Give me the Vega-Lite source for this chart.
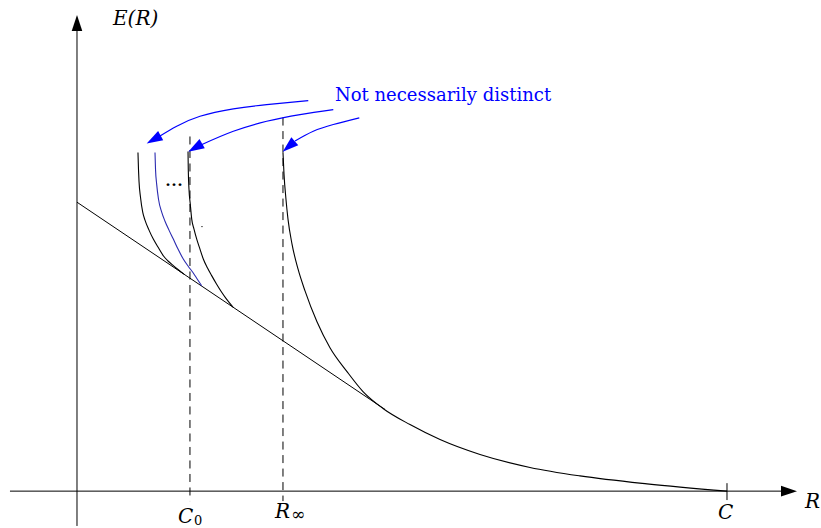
{
  "$schema": "https://vega.github.io/schema/vega-lite/v6.json",
  "width": 821,
  "height": 528,
  "autosize": {"type": "fit", "contains": "padding"},
  "padding": 0,
  "background": "white",
  "config": {"view": {"stroke": null}},
  "datasets": {
    "segments": [
      {"name": "R axis", "R": -1.031, "E": 0, "R2": 10.892, "E2": 0},
      {"name": "E axis", "R": 0, "E": -0.538, "R2": 0, "E2": 7.154},
      {"name": "tick C", "R": 10, "E": 0.123, "R2": 10, "E2": -0.138},
      {"name": "sphere packing line", "R": 0, "E": 4.462, "R2": 4.738, "E2": 1.262}
    ],
    "guides": [
      {"name": "C0", "R": 1.738, "E": 5.477, "R2": 1.738, "E2": -0.154},
      {"name": "Rinf", "R": 3.169, "E": 5.769, "R2": 3.169, "E2": -0.154}
    ],
    "curves": [
      {"curve": "A", "R": 0.938, "E": 5.231},
      {"curve": "A", "R": 0.946, "E": 4.969},
      {"curve": "A", "R": 0.954, "E": 4.785},
      {"curve": "A", "R": 0.977, "E": 4.538},
      {"curve": "A", "R": 1.011, "E": 4.308},
      {"curve": "A", "R": 1.046, "E": 4.185},
      {"curve": "A", "R": 1.108, "E": 4.031},
      {"curve": "A", "R": 1.174, "E": 3.892},
      {"curve": "A", "R": 1.246, "E": 3.769},
      {"curve": "A", "R": 1.328, "E": 3.635},
      {"curve": "A", "R": 1.4, "E": 3.554},
      {"curve": "A", "R": 1.482, "E": 3.482},
      {"curve": "A", "R": 1.554, "E": 3.423},
      {"curve": "A", "R": 1.646, "E": 3.351},
      {"curve": "B", "R": 1.2, "E": 5.231},
      {"curve": "B", "R": 1.208, "E": 4.969},
      {"curve": "B", "R": 1.226, "E": 4.738},
      {"curve": "B", "R": 1.254, "E": 4.508},
      {"curve": "B", "R": 1.303, "E": 4.308},
      {"curve": "B", "R": 1.354, "E": 4.169},
      {"curve": "B", "R": 1.415, "E": 4.031},
      {"curve": "B", "R": 1.482, "E": 3.892},
      {"curve": "B", "R": 1.554, "E": 3.738},
      {"curve": "B", "R": 1.635, "E": 3.585},
      {"curve": "B", "R": 1.708, "E": 3.477},
      {"curve": "B", "R": 1.789, "E": 3.369},
      {"curve": "B", "R": 1.854, "E": 3.269},
      {"curve": "B", "R": 1.918, "E": 3.172},
      {"curve": "C", "R": 1.708, "E": 5.246},
      {"curve": "C", "R": 1.712, "E": 4.969},
      {"curve": "C", "R": 1.723, "E": 4.662},
      {"curve": "C", "R": 1.743, "E": 4.431},
      {"curve": "C", "R": 1.765, "E": 4.2},
      {"curve": "C", "R": 1.8, "E": 4.046},
      {"curve": "C", "R": 1.842, "E": 3.892},
      {"curve": "C", "R": 1.892, "E": 3.738},
      {"curve": "C", "R": 1.943, "E": 3.585},
      {"curve": "C", "R": 2.008, "E": 3.446},
      {"curve": "C", "R": 2.072, "E": 3.328},
      {"curve": "C", "R": 2.146, "E": 3.2},
      {"curve": "C", "R": 2.226, "E": 3.072},
      {"curve": "C", "R": 2.292, "E": 2.977},
      {"curve": "C", "R": 2.4, "E": 2.842},
      {"curve": "Rinf", "R": 3.169, "E": 5.231},
      {"curve": "Rinf", "R": 3.185, "E": 4.892},
      {"curve": "Rinf", "R": 3.215, "E": 4.508},
      {"curve": "Rinf", "R": 3.246, "E": 4.2},
      {"curve": "Rinf", "R": 3.308, "E": 3.815},
      {"curve": "Rinf", "R": 3.4, "E": 3.431},
      {"curve": "Rinf", "R": 3.508, "E": 3.092},
      {"curve": "Rinf", "R": 3.692, "E": 2.615},
      {"curve": "Rinf", "R": 3.892, "E": 2.215},
      {"curve": "Rinf", "R": 4.154, "E": 1.846},
      {"curve": "Rinf", "R": 4.4, "E": 1.538},
      {"curve": "Rinf", "R": 4.708, "E": 1.277},
      {"curve": "Rinf", "R": 5.123, "E": 1.028},
      {"curve": "Rinf", "R": 5.585, "E": 0.797},
      {"curve": "Rinf", "R": 6.2, "E": 0.566},
      {"curve": "Rinf", "R": 6.969, "E": 0.366},
      {"curve": "Rinf", "R": 7.738, "E": 0.235},
      {"curve": "Rinf", "R": 8.769, "E": 0.112},
      {"curve": "Rinf", "R": 10, "E": 0}
    ],
    "arrows": [
      {"arrow": 1, "R": 1.277, "E": 5.485},
      {"arrow": 1, "R": 1.534, "E": 5.635},
      {"arrow": 1, "R": 1.892, "E": 5.789},
      {"arrow": 1, "R": 2.405, "E": 5.903},
      {"arrow": 1, "R": 2.918, "E": 5.969},
      {"arrow": 1, "R": 3.558, "E": 6.031},
      {"arrow": 2, "R": 1.923, "E": 5.354},
      {"arrow": 2, "R": 2.405, "E": 5.558},
      {"arrow": 2, "R": 2.918, "E": 5.712},
      {"arrow": 2, "R": 3.431, "E": 5.815},
      {"arrow": 2, "R": 3.943, "E": 5.892},
      {"arrow": 3, "R": 3.354, "E": 5.408},
      {"arrow": 3, "R": 3.635, "E": 5.558},
      {"arrow": 3, "R": 3.943, "E": 5.662},
      {"arrow": 3, "R": 4.343, "E": 5.765}
    ],
    "noteHeads": [
      {"arrow": 1, "R": 1.072, "E": 5.369, "heading": 241},
      {"arrow": 2, "R": 1.712, "E": 5.242, "heading": 240},
      {"arrow": 3, "R": 3.165, "E": 5.242, "heading": 229}
    ],
    "axisHeads": [
      {"axis": "R", "R": 11.077, "E": 0, "heading": 90},
      {"axis": "E", "R": 0, "E": 7.354, "heading": 0}
    ],
    "mathLabels": [
      {"text": "E(R)", "R": 0.554, "E": 7.2},
      {"text": "R", "R": 11.2, "E": -0.262},
      {"text": "C", "R": 9.862, "E": -0.431},
      {"text": "C", "R": 1.554, "E": -0.492},
      {"text": "R", "R": 3.046, "E": -0.415}
    ],
    "subLabels": [
      {"text": "0", "R": 1.8, "E": -0.523}
    ],
    "infinity": [
      {"text": "∞", "R": 3.292, "E": -0.446}
    ],
    "note": [
      {"text": "Not necessarily distinct", "R": 3.969, "E": 6.031}
    ],
    "ellipsis": [
      {"text": "...", "R": 1.354, "E": 4.708}
    ],
    "marks": [
      {"R": 1.923, "E": 4.085}
    ]
  },
  "encoding": {
    "x": {"field": "R", "type": "quantitative", "scale": {"domain": [-1.1846, 11.4462], "nice": false, "zero": false}, "axis": null},
    "y": {"field": "E", "type": "quantitative", "scale": {"domain": [-0.5385, 7.5846], "nice": false, "zero": false}, "axis": null}
  },
  "layer": [
    {
      "data": {"name": "guides"},
      "mark": {"type": "rule", "color": "black", "strokeWidth": 1, "strokeDash": [8, 5.5]},
      "encoding": {"x2": {"field": "R2"}, "y2": {"field": "E2"}}
    },
    {
      "data": {"name": "segments"},
      "mark": {"type": "rule", "color": "black", "strokeWidth": 1},
      "encoding": {"x2": {"field": "R2"}, "y2": {"field": "E2"}}
    },
    {
      "data": {"name": "curves"},
      "mark": {"type": "line", "interpolate": "monotone", "strokeWidth": 1.1},
      "encoding": {
        "detail": {"field": "curve"},
        "color": {"field": "curve", "type": "nominal", "scale": {"domain": ["A", "B", "C", "Rinf"], "range": ["black", "#2b2bb0", "black", "black"]}, "legend": null}
      }
    },
    {
      "data": {"name": "arrows"},
      "mark": {"type": "line", "interpolate": "natural", "color": "#0000ff", "strokeWidth": 1.2},
      "encoding": {"detail": {"field": "arrow"}}
    },
    {
      "data": {"name": "noteHeads"},
      "mark": {"type": "point", "shape": "M0,0L0.66,2L-0.66,2Z", "size": 256, "filled": true, "opacity": 1, "color": "#0000ff", "strokeWidth": 0},
      "encoding": {"angle": {"field": "heading", "type": "quantitative", "scale": null}}
    },
    {
      "data": {"name": "axisHeads"},
      "mark": {"type": "point", "shape": "M0,0L0.66,2L-0.66,2Z", "size": 256, "filled": true, "opacity": 1, "color": "black", "strokeWidth": 0},
      "encoding": {"angle": {"field": "heading", "type": "quantitative", "scale": null}}
    },
    {
      "data": {"name": "marks"},
      "mark": {"type": "point", "shape": "circle", "size": 2, "filled": true, "opacity": 1, "color": "black"}
    },
    {
      "data": {"name": "mathLabels"},
      "mark": {"type": "text", "align": "left", "baseline": "alphabetic", "font": "DejaVu Serif", "fontStyle": "italic", "fontSize": 20, "color": "black"},
      "encoding": {"text": {"field": "text"}}
    },
    {
      "data": {"name": "subLabels"},
      "mark": {"type": "text", "align": "left", "baseline": "alphabetic", "font": "DejaVu Serif", "fontSize": 13, "color": "black"},
      "encoding": {"text": {"field": "text"}}
    },
    {
      "data": {"name": "infinity"},
      "mark": {"type": "text", "align": "left", "baseline": "alphabetic", "font": "DejaVu Serif", "fontSize": 17, "color": "black"},
      "encoding": {"text": {"field": "text"}}
    },
    {
      "data": {"name": "note"},
      "mark": {"type": "text", "align": "left", "baseline": "alphabetic", "font": "DejaVu Serif", "fontSize": 18, "color": "#0000ff"},
      "encoding": {"text": {"field": "text"}}
    },
    {
      "data": {"name": "ellipsis"},
      "mark": {"type": "text", "align": "left", "baseline": "alphabetic", "font": "Liberation Serif", "fontSize": 24, "color": "black"},
      "encoding": {"text": {"field": "text"}}
    }
  ]
}
